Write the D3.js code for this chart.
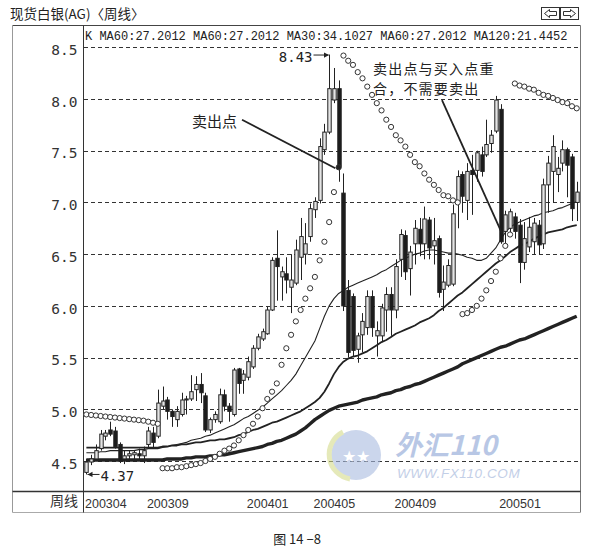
<!DOCTYPE html>
<html><head><meta charset="utf-8">
<script src="https://cdn.jsdelivr.net/npm/d3@7"></script>
<style>
html,body{margin:0;padding:0;background:#fff;}
svg{display:block;}
</style></head><body>
<svg id="c" width="592" height="547"></svg>
<script>
// ---------------- DATA ----------------
const openP = [4.39,4.49,4.52,4.62,4.74,4.80,4.79,4.66,4.52,4.55,
4.56,4.57,4.55,4.66,4.77,4.74,5.03,5.09,4.98,4.90,
4.95,5.09,5.10,5.19,5.24,5.13,4.80,4.90,4.88,5.14,
5.03,4.95,5.39,5.28,5.31,5.41,5.59,5.68,5.73,5.96,
6.46,6.28,6.31,6.18,6.22,6.47,6.50,6.67,6.93,7.02,
7.51,7.68,7.99,8.10,7.09,6.15,6.09,5.58,5.72,5.79,
6.09,5.71,5.71,5.96,6.11,5.96,6.45,6.68,6.36,6.60,
6.74,6.60,6.83,6.58,6.65,6.16,6.20,6.21,7.00,7.27,
7.02,7.31,7.31,7.46,7.46,7.57,7.69,7.90,6.72,6.75,
6.86,6.78,6.42,6.57,6.62,6.78,6.60,7.17,7.30,7.27,
7.38,7.51,7.44,7.00];
const highP = [4.52,4.56,4.66,4.80,4.80,4.88,4.83,4.68,4.60,4.60,
4.60,4.62,4.64,4.83,4.83,5.19,5.22,5.12,5.00,5.03,
5.16,5.13,5.33,5.32,5.35,5.16,4.92,4.98,5.20,5.19,
5.06,5.40,5.40,5.38,5.51,5.62,5.73,5.78,5.99,6.47,
6.73,6.38,6.47,6.50,6.64,6.85,6.80,6.99,7.05,7.62,
7.76,8.43,8.30,8.18,7.28,6.25,6.12,5.74,5.93,6.15,
6.15,5.85,6.02,6.18,6.18,6.45,6.74,6.73,6.58,6.83,
6.85,6.96,6.86,6.85,6.68,6.39,6.45,6.98,7.31,7.30,
7.38,7.46,7.50,7.54,7.80,7.70,8.03,7.95,6.92,6.94,
6.90,6.84,6.81,6.86,6.85,6.83,7.23,7.45,7.65,7.44,
7.60,7.53,7.47,7.20];
const lowP = [4.37,4.46,4.50,4.60,4.70,4.74,4.62,4.48,4.47,4.49,
4.50,4.52,4.48,4.62,4.62,4.72,5.00,4.90,4.83,4.83,
4.93,4.95,5.08,5.08,5.06,4.78,4.77,4.87,4.86,4.98,
4.88,4.93,5.15,5.15,5.28,5.39,5.57,5.66,5.72,5.95,
6.05,6.05,6.12,5.93,6.20,6.25,6.40,6.62,6.85,6.99,
7.46,7.66,7.96,7.20,5.95,5.50,5.51,5.45,5.55,5.72,
5.70,5.51,5.66,5.75,5.71,5.88,6.28,6.25,6.10,6.40,
6.48,6.45,6.45,6.40,6.08,5.95,6.18,6.19,6.75,6.90,
6.83,6.88,7.20,7.25,7.44,7.48,7.67,6.60,6.60,6.70,
6.65,6.22,6.35,6.52,6.50,6.50,6.55,6.90,7.00,7.10,
7.30,7.05,6.82,6.82];
const closeP = [4.49,4.52,4.60,4.76,4.77,4.76,4.64,4.50,4.55,4.57,
4.58,4.55,4.60,4.79,4.68,5.06,5.08,4.98,4.93,4.98,
5.09,5.10,5.17,5.24,5.16,4.80,4.90,4.95,5.14,5.03,
4.98,5.38,5.25,5.34,5.46,5.59,5.70,5.75,5.96,6.44,
6.38,6.33,6.25,6.25,6.54,6.67,6.60,6.94,7.01,7.54,
7.68,8.10,8.10,7.35,6.00,5.55,5.57,5.71,5.85,6.09,
5.79,5.76,5.98,6.11,5.96,6.38,6.69,6.33,6.52,6.75,
6.60,6.84,6.56,6.63,6.13,6.23,6.39,6.89,7.25,7.06,
7.30,7.27,7.48,7.30,7.56,7.65,7.99,6.62,6.88,6.91,
6.72,6.42,6.65,6.76,6.80,6.59,7.17,7.38,7.54,7.33,
7.51,7.36,6.94,7.10];

const ma30 = [4.58,4.58,4.58,4.59,4.59,4.60,4.60,4.60,4.60,4.60,
4.60,4.61,4.61,4.62,4.62,4.62,4.63,4.64,4.65,4.66,
4.67,4.68,4.70,4.71,4.72,4.74,4.75,4.77,4.79,4.81,
4.83,4.85,4.88,4.91,4.93,4.96,4.99,5.02,5.06,5.10,
5.14,5.18,5.23,5.28,5.34,5.42,5.50,5.58,5.66,5.78,
5.90,6.00,6.07,6.12,6.15,6.18,6.20,6.22,6.24,6.26,
6.28,6.30,6.33,6.35,6.38,6.41,6.44,6.46,6.48,6.50,
6.51,6.53,6.54,6.54,6.53,6.52,6.51,6.51,6.50,6.49,
6.47,6.46,6.44,6.44,6.46,6.51,6.56,6.64,6.71,6.76,
6.79,6.81,6.83,6.85,6.87,6.88,6.90,6.91,6.92,6.94,
6.95,6.97,6.99,7.01];
const ma60 = [4.63,4.63,4.63,4.63,4.63,4.63,4.63,4.63,4.63,4.63,
4.63,4.63,4.63,4.63,4.63,4.63,4.64,4.64,4.65,4.65,
4.66,4.66,4.67,4.68,4.68,4.69,4.70,4.70,4.71,4.71,
4.72,4.73,4.75,4.76,4.78,4.80,4.81,4.83,4.85,4.87,
4.88,4.90,4.92,4.94,4.96,4.98,5.01,5.04,5.07,5.11,
5.17,5.25,5.34,5.41,5.46,5.49,5.51,5.52,5.54,5.56,
5.59,5.62,5.65,5.67,5.70,5.73,5.75,5.77,5.79,5.81,
5.84,5.86,5.88,5.91,5.95,5.98,6.02,6.06,6.10,6.13,
6.17,6.21,6.25,6.29,6.33,6.37,6.41,6.44,6.48,6.52,
6.55,6.58,6.60,6.62,6.65,6.67,6.69,6.71,6.72,6.73,
6.74,6.76,6.77,6.78];
const ma120 = [4.51,4.51,4.51,4.51,4.51,4.51,4.51,4.51,4.51,4.51,
4.51,4.51,4.51,4.51,4.51,4.51,4.51,4.52,4.52,4.52,
4.52,4.53,4.53,4.54,4.54,4.54,4.55,4.55,4.56,4.56,
4.57,4.58,4.59,4.60,4.61,4.62,4.63,4.64,4.66,4.67,
4.69,4.70,4.72,4.74,4.76,4.79,4.82,4.86,4.90,4.93,
4.96,4.99,5.01,5.03,5.04,5.05,5.06,5.07,5.09,5.10,
5.11,5.12,5.14,5.15,5.16,5.18,5.19,5.21,5.22,5.24,
5.25,5.27,5.29,5.31,5.33,5.35,5.37,5.39,5.41,5.44,
5.46,5.48,5.50,5.52,5.54,5.56,5.58,5.60,5.61,5.63,
5.65,5.67,5.68,5.70,5.72,5.74,5.76,5.78,5.80,5.82,
5.84,5.86,5.88,5.90];
const sar = [4.95,4.945,4.94,4.935,4.93,4.925,4.92,4.915,4.91,4.905,
4.90,4.895,4.89,4.88,4.87,4.86,
4.43,4.43,4.43,4.44,4.44,4.45,4.46,4.47,4.48,4.50,4.52,4.54,4.57,4.60,4.62,
4.65,4.70,4.75,4.80,4.86,4.93,5.01,5.10,5.17,5.25,5.43,5.59,5.72,5.85,5.96,6.07,6.17,6.28,6.44,6.62,6.81,7.10,7.34,
8.42,8.37,8.33,8.26,8.20,8.12,8.04,7.96,7.89,7.80,7.73,7.65,7.60,7.54,7.46,7.39,7.35,7.28,7.22,7.17,7.12,7.07,7.06,7.02,7.00,
5.92,5.93,5.96,6.00,6.07,6.15,6.24,6.33,6.46,6.58,6.69,
8.15,8.13,8.12,8.10,8.09,8.06,8.04,8.03,8.01,7.99,7.97,7.96,7.93,7.91];
const sellIndex = 53;          // filled SAR dot (sell point)
const yTicks = [4.5,5.0,5.5,6.0,6.5,7.0,7.5,8.0,8.5];
const dateLabels = ["200304","200309","200401","200405","200409","200501"];
const dateLabelIdx = [0,13,34,48,65,87];
const headerText = "K MA60:27.2012 MA60:27.2012 MA30:34.1027 MA60:27.2012 MA120:21.4452";
const titleText = "现货白银(AG)〈周线〉";
const periodText = "周线";
const captionText = "图 14 −8";
const highNote = {text:"8.43", idx:51, value:8.43};
const lowNote = {text:"4.37", idx:0, value:4.37};
const note1 = {lines:["卖出点"], from:[32.7, 7.80], to:[52.3, 7.33]};
const note2 = {lines:["卖出点与买入点重","合，不需要卖出"], from:[74.7, 7.99], to:[87.3, 6.70]};
const watermark = ["外汇110", "WWW.FX110.COM"];

// ---------------- LAYOUT ----------------
const INK = "#222";
const svg = d3.select("#c");
const F = {l:12.5, r:580.5, t:25.5, b:512.5, sep:491.5, ax:83.5};
const N = openP.length;
const x = d3.scaleBand().domain(d3.range(N)).range([84, 579.1]).paddingInner(0.28).paddingOuter(0.14);
const cx = i => x(0) - x.step()*0.14 + x.step()*(i + 0.5);
const y = d3.scaleLinear().domain([4.5, 8.5]).range([461, 47.3]);

// title + buttons
svg.append("text").attr("x", 10).attr("y", 19).attr("font-family","Noto Sans CJK SC")
  .attr("font-size", 13.5).attr("fill", INK).text(titleText);
const btn = svg.append("g").attr("stroke", "#333").attr("fill", "none").attr("stroke-width", 1);
[[541.5, -1],[560.5, 1]].forEach(([bx, dir]) => {
  btn.append("rect").attr("x", bx).attr("y", 7.5).attr("width", 18).attr("height", 12);
  const c = 13.5, m = bx + 9;
  const pts = dir < 0
    ? [[m-6,c],[m-1,c-4],[m-1,c-2],[m+6,c-2],[m+6,c+2],[m-1,c+2],[m-1,c+4]]
    : [[m+6,c],[m+1,c-4],[m+1,c-2],[m-6,c-2],[m-6,c+2],[m+1,c+2],[m+1,c+4]];
  btn.append("path").attr("d", "M" + pts.map(p => p.join(",")).join("L") + "Z");
});

// frame
const fr = svg.append("g").attr("fill", "none");
fr.append("line").attr("x1", F.l).attr("x2", F.r).attr("y1", F.t).attr("y2", F.t).attr("stroke", "#444");
fr.append("line").attr("x1", F.l).attr("x2", F.l).attr("y1", F.t).attr("y2", F.b).attr("stroke", "#999");
fr.append("line").attr("x1", F.r).attr("x2", F.r).attr("y1", F.t).attr("y2", F.b).attr("stroke", "#777");
fr.append("line").attr("x1", F.l).attr("x2", F.r).attr("y1", F.b).attr("y2", F.b).attr("stroke", "#aaa");
fr.append("line").attr("x1", F.l).attr("x2", F.r).attr("y1", F.sep).attr("y2", F.sep).attr("stroke", "#333").attr("stroke-width", 1.5);
fr.append("line").attr("x1", F.ax).attr("x2", F.ax).attr("y1", F.t).attr("y2", F.b).attr("stroke", "#333");

// header
svg.append("text").attr("x", 85).attr("y", 40).attr("font-family", "Liberation Mono, monospace")
  .attr("font-size", 12).attr("fill", INK).attr("xml:space","preserve").text(headerText);

// gridlines
svg.append("g").selectAll("line").data(yTicks).join("line")
  .attr("x1", 84).attr("x2", 580).attr("y1", d => Math.round(y(d)) + 0.5).attr("y2", d => Math.round(y(d)) + 0.5)
  .attr("stroke", "#333").attr("stroke-dasharray", "4,3");

// watermark
const wm = svg.append("g").attr("opacity", 0.6);
wm.append("circle").attr("cx", 356).attr("cy", 455).attr("r", 25).attr("fill", "#a9bbe0");
wm.append("path").attr("d", "M343,432 A25,25 0 0,0 350,479").attr("stroke", "#d5dc8c").attr("stroke-width", 5).attr("fill", "none");
wm.append("text").attr("x", 356).attr("y", 462).attr("text-anchor", "middle").attr("font-size", 16).attr("fill", "#fff").text("★★");
wm.append("text").attr("x", 395).attr("y", 455).attr("font-family", "Noto Sans CJK SC").attr("font-weight", "bold")
  .attr("font-style", "italic").attr("font-size", 27).attr("fill", "#8aa3d4").text(watermark[0]);
wm.append("text").attr("x", 397).attr("y", 478).attr("font-family", "Liberation Sans").attr("font-style", "italic")
  .attr("font-size", 13.5).attr("letter-spacing", 0.6).attr("fill", "#9bb0d8").text(watermark[1]);

// moving averages
const line = d3.line().x((d, i) => cx(i)).y(d => y(d));
const maG = svg.append("g").attr("fill", "none").attr("stroke", INK).attr("stroke-linejoin", "round");
maG.append("path").attr("d", line(ma120)).attr("stroke-width", 3.4);
maG.append("path").attr("d", line(ma60)).attr("stroke-width", 1.8);
maG.append("path").attr("d", line(ma30)).attr("stroke-width", 1.1);

// candles
const bw = x.bandwidth();
const cg = svg.append("g").selectAll("g").data(d3.range(N)).join("g");
cg.append("line").attr("x1", i => Math.round(cx(i)) + 0.5).attr("x2", i => Math.round(cx(i)) + 0.5)
  .attr("y1", i => y(highP[i])).attr("y2", i => y(lowP[i])).attr("stroke", INK).attr("stroke-width", 1);
cg.append("rect")
  .attr("x", i => Math.round(cx(i)) + 0.5 - bw/2)
  .attr("y", i => y(Math.max(openP[i], closeP[i])))
  .attr("width", bw)
  .attr("height", i => Math.max(1, Math.abs(y(openP[i]) - y(closeP[i]))))
  .attr("fill", i => closeP[i] >= openP[i] ? "#e4e4e4" : "#1c1c1c")
  .attr("stroke", INK).attr("stroke-width", 1);

// SAR
svg.append("g").selectAll("circle").data(sar).join("circle")
  .attr("cx", (d, i) => cx(i)).attr("cy", d => y(d)).attr("r", 2.6)
  .attr("fill", (d, i) => i === sellIndex ? INK : "#fff")
  .attr("stroke", "#333").attr("stroke-width", 1);

// annotations
const an = svg.append("g");
function arrowHead(px, py, dir) {
  an.append("path").attr("d", `M${px},${py}L${px - dir*5},${py - 2.6}L${px - dir*5},${py + 2.6}Z`).attr("fill", INK);
}
{
  const hx = Math.round(cx(highNote.idx)) + 0.5, hy = y(highNote.value) + 0.5;
  an.append("text").attr("x", hx - 17).attr("y", hy + 7).attr("text-anchor", "end")
    .attr("font-family", "DejaVu Sans Mono").attr("font-size", 14).attr("fill", INK).text(highNote.text);
  an.append("line").attr("x1", hx - 16).attr("x2", hx - 1).attr("y1", hy).attr("y2", hy).attr("stroke", INK);
  arrowHead(hx - 0.5, hy, 1);
  const lx = Math.round(cx(lowNote.idx)) + 0.5, ly = y(lowNote.value);
  an.append("line").attr("x1", lx + 13).attr("x2", lx + 1).attr("y1", ly).attr("y2", ly).attr("stroke", INK);
  arrowHead(lx + 1, ly, -1);
  an.append("text").attr("x", lx + 14).attr("y", ly + 6.5)
    .attr("font-family", "DejaVu Sans Mono").attr("font-size", 14).attr("fill", INK).text(lowNote.text);
}
[note1, note2].forEach(n => {
  an.append("line").attr("x1", cx(n.from[0])).attr("y1", y(n.from[1]))
    .attr("x2", cx(n.to[0])).attr("y2", y(n.to[1])).attr("stroke", INK).attr("stroke-width", 1.8);
});
an.append("text").attr("x", 192).attr("y", 127).attr("font-family", "Noto Sans CJK SC")
  .attr("font-size", 15).attr("fill", INK).text(note1.lines[0]);
note2.lines.forEach((t, k) => an.append("text").attr("x", 373).attr("y", 73.5 + k*20.5)
  .attr("font-family", "Noto Sans CJK SC").attr("font-size", 14).attr("letter-spacing", 1.2)
  .attr("fill", INK).text(t));

// axes
const ya = svg.append("g").attr("transform", `translate(${F.ax},0)`)
  .call(d3.axisLeft(y).tickValues(yTicks).tickSize(0).tickPadding(6).tickFormat(d3.format(".1f")));
ya.select(".domain").remove();
ya.selectAll("text").attr("font-family", "DejaVu Sans Mono").attr("font-size", 14.5).attr("fill", "#333").attr("dy", "0.5em");

const xa = svg.append("g").attr("transform", `translate(0,${F.sep})`)
  .call(d3.axisBottom(x).tickValues(dateLabelIdx).tickSize(0).tickFormat(d => dateLabels[dateLabelIdx.indexOf(d)]));
xa.select(".domain").remove();
xa.selectAll("text").attr("font-family", "Liberation Sans, Arial").attr("font-size", 12.5).attr("fill", "#333")
  .attr("text-anchor", "start").attr("dx", -1.4).attr("y", 16).attr("dy", 0);

svg.append("text").attr("x", 78).attr("y", 506).attr("text-anchor", "end").attr("font-family", "Noto Sans CJK SC")
  .attr("font-size", 14).attr("fill", "#333").text(periodText);

svg.append("text").attr("x", 297).attr("y", 544).attr("text-anchor", "middle").attr("font-family", "Noto Sans CJK SC")
  .attr("font-size", 13).attr("fill", INK).text(captionText);
</script>
</body></html>
